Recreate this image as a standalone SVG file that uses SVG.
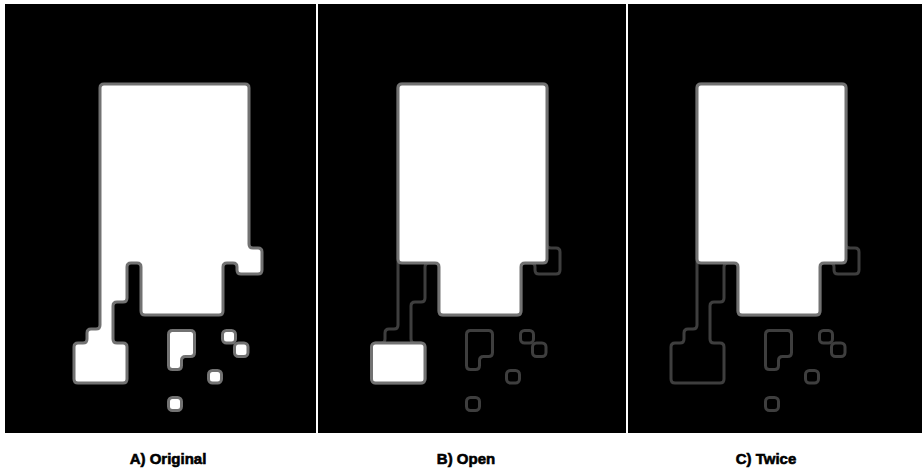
<svg xmlns="http://www.w3.org/2000/svg" width="922" height="471" viewBox="0 0 922 471">
  <style>
    .panel { fill: #000000; }
    .label { font-family: "Liberation Sans", Arial, sans-serif; font-weight: bold; font-size: 15px; fill: #000000; stroke: #000000; stroke-width: 0.6; text-anchor: middle; }
    .kept { fill: #ffffff; stroke: #727272; stroke-width: 3; }
    .ghost { fill: none; stroke: #3e3e3e; stroke-width: 3; }
  </style>
  <defs>
    <g id="original">
      <path d="M104,84 L245,84 Q249,84 249,88 L249,244 Q249,248 253,248 L258,248 Q262,248 262,252 L262,270 Q262,274 258,274 L241,274 Q237,274 237,270 L237,267 Q237,263 233,263 L227,263 Q223,263 223,267 L223,311 Q223,315 219,315 L145,315 Q141,315 141,311 L141,267 Q141,263 137,263 L131,263 Q127,263 127,267 L127,298 Q127,302 123,302 L117,302 Q113,302 113,306 L113,339 Q113,343 117,343 L123,343 Q127,343 127,347 L127,379 Q127,383 123,383 L78,383 Q74,383 74,379 L74,347 Q74,343 78,343 L83,343 Q87,343 87,339 L87,333 Q87,329 91,329 L96,329 Q100,329 100,325 L100,88 Q100,84 104,84 Z"/>
      <path d="M172.5,330.5 L190.5,330.5 Q194.5,330.5 194.5,334.5 L194.5,352.5 Q194.5,356.5 190.5,356.5 L185.5,356.5 Q181.5,356.5 181.5,360.5 L181.5,365.5 Q181.5,369.5 177.5,369.5 L172.5,369.5 Q168.5,369.5 168.5,365.5 L168.5,334.5 Q168.5,330.5 172.5,330.5 Z"/>
      <rect x="222.5" y="330.5" width="13" height="12.5" rx="4"/>
      <rect x="234.5" y="343" width="13.5" height="13.5" rx="4"/>
      <rect x="208.5" y="370.5" width="13" height="12.5" rx="4"/>
      <rect x="168.5" y="397.5" width="13" height="13" rx="4"/>
    </g>
    <path id="opened" d="M104,84 L245,84 Q249,84 249,88 L249,259 Q249,263 245,263 L227,263 Q223,263 223,267 L223,311 Q223,315 219,315 L145,315 Q141,315 141,311 L141,267 Q141,263 137,263 L104,263 Q100,263 100,259 L100,88 Q100,84 104,84 Z"/>
    <rect id="block" x="73.5" y="343" width="53.5" height="40" rx="4"/>
  </defs>

  <rect x="0" y="0" width="922" height="471" fill="#ffffff"/>

  <g id="panel-a">
    <rect class="panel" x="5" y="4" width="311" height="429"/>
    <use href="#original" class="kept"/>
  </g>

  <g id="panel-b">
    <rect class="panel" x="318" y="4" width="308" height="429"/>
    <use href="#original" class="ghost" transform="translate(298,0)"/>
    <use href="#opened" class="kept" transform="translate(298,0)"/>
    <use href="#block" class="kept" transform="translate(298,0)"/>
  </g>

  <g id="panel-c">
    <rect class="panel" x="628" y="4" width="294" height="429"/>
    <use href="#original" class="ghost" transform="translate(597,0)"/>
    <use href="#opened" class="kept" transform="translate(597,0)"/>
  </g>

  <g id="labels">
    <text class="label" x="168" y="464">A) Original</text>
    <text class="label" x="466" y="464">B) Open</text>
    <text class="label" x="766" y="464">C) Twice</text>
  </g>
</svg>
